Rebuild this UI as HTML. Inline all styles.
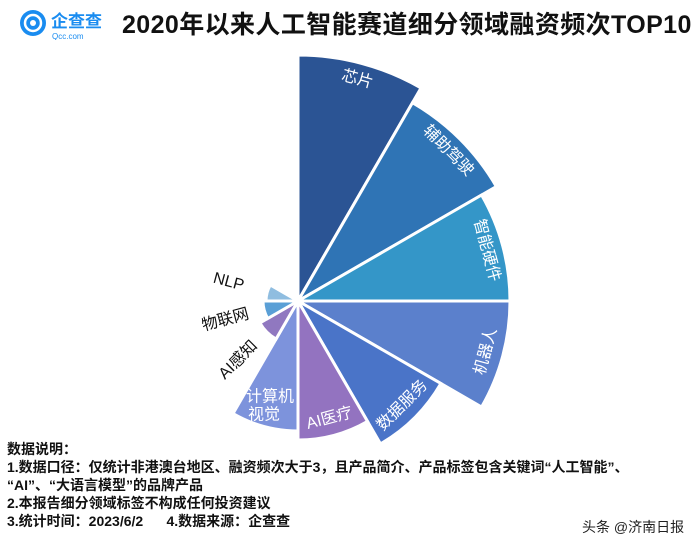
<!DOCTYPE html>
<html><head><meta charset="utf-8">
<style>
body{margin:0;width:700px;height:543px;background:#fff;overflow:hidden;font-family:"Liberation Sans","Noto Sans CJK SC",sans-serif;position:relative}
#title{position:absolute;left:122px;top:5px;font-size:25px;letter-spacing:0.4px;font-weight:bold;color:#111;white-space:nowrap}
#logo{position:absolute;left:18px;top:8px}
#notes{position:absolute;left:7px;top:440px;font-size:14px;font-weight:bold;color:#111;line-height:18px;white-space:nowrap}
#src{position:absolute;left:582px;top:517px;font-size:14px;color:#222}
</style></head><body>
<div id="logo">
<svg width="100" height="32"><circle cx="15" cy="15" r="13" fill="#1a8cf0"/><circle cx="15" cy="15" r="8" fill="none" stroke="#fff" stroke-width="2.5"/><circle cx="15" cy="15" r="3" fill="#fff"/>
<text x="33" y="19" font-size="17" font-family="Liberation Sans,Noto Sans CJK SC,sans-serif" fill="#1a8cf0" font-weight="bold">企查查</text>
<text x="34" y="31" font-size="8" font-family="Liberation Sans,sans-serif" fill="#1a8cf0">Qcc.com</text></svg></div>
<div id="title">2020年以来人工智能赛道细分领域融资频次TOP10</div>
<svg id="chart" width="700" height="543" style="position:absolute;left:0;top:0"></svg>
<div id="notes">数据说明：<br>1.数据口径：仅统计非港澳台地区、融资频次大于3，且产品简介、产品标签包含关键词“人工智能”、<br>“AI”、“大语言模型”的品牌产品<br>2.本报告细分领域标签不构成任何投资建议<br>3.统计时间：2023/6/2&nbsp;&nbsp;&nbsp;&nbsp;&nbsp;&nbsp;4.数据来源：企查查</div>
<div id="src">头条 @济南日报</div>
<script>
const categories=["芯片","辅助驾驶","智能硬件","机器人","数据服务","AI医疗","计算机视觉","AI感知","物联网","NLP"];
const values=[246,229,212,212,165,139,130,44,35,32];
const colors=["#2b5494","#2f74b5","#3496c8","#5b80cc","#4a74c8","#9373c0","#7d93dc","#9078c0","#5a9fd6","#8fbde0"];
const cx=298,cy=301,step=30;
const svg=document.getElementById('chart');
const NS="http://www.w3.org/2000/svg";
function rScale(v){return v;}
function pt(r,deg){const a=deg*Math.PI/180;return [cx+r*Math.sin(a),cy-r*Math.cos(a)];}
categories.forEach((c,i)=>{
  const r=rScale(values[i]),a0=i*step,a1=(i+1)*step;
  const p0=pt(r,a0),p1=pt(r,a1);
  const p=document.createElementNS(NS,'path');
  p.setAttribute('d',`M${cx},${cy}L${p0[0]},${p0[1]}A${r},${r} 0 0 1 ${p1[0]},${p1[1]}Z`);
  p.setAttribute('fill',colors[i]);p.setAttribute('stroke','#fff');p.setAttribute('stroke-width','3');
  
  
  svg.appendChild(p);
  const mid=(a0+a1)/2;
  const t=document.createElementNS(NS,'text');
  t.setAttribute('font-size','16');t.setAttribute('text-anchor','middle');t.setAttribute('dominant-baseline','middle');
  t.setAttribute('font-family','Liberation Sans,Noto Sans CJK SC,sans-serif');
  
  
  if(i<6){
    const q=pt(r-17,mid);
    const rot=mid<=90?mid:mid-180;
    t.setAttribute('x',q[0]);t.setAttribute('y',q[1]);t.setAttribute('fill','#fff');
    t.setAttribute('transform',`rotate(${rot} ${q[0]} ${q[1]})`);
    t.textContent=c;
  }else if(i===6){
    const q=pt(r-22,mid);
    t.setAttribute('fill','#fff');
    t.innerHTML=`<tspan x="${q[0]}" y="${q[1]-8}">计算机</tspan><tspan x="${q[0]-6}" y="${q[1]+10}">视觉</tspan>`;
  }else{
    const q=pt(r+40,mid);
    const rot=mid-270;
    t.setAttribute('x',q[0]);t.setAttribute('y',q[1]);t.setAttribute('fill','#111');
    t.setAttribute('transform',`rotate(${rot} ${q[0]} ${q[1]})`);
    t.textContent=c;
  }
  svg.appendChild(t);
});
</script>
</body></html>
